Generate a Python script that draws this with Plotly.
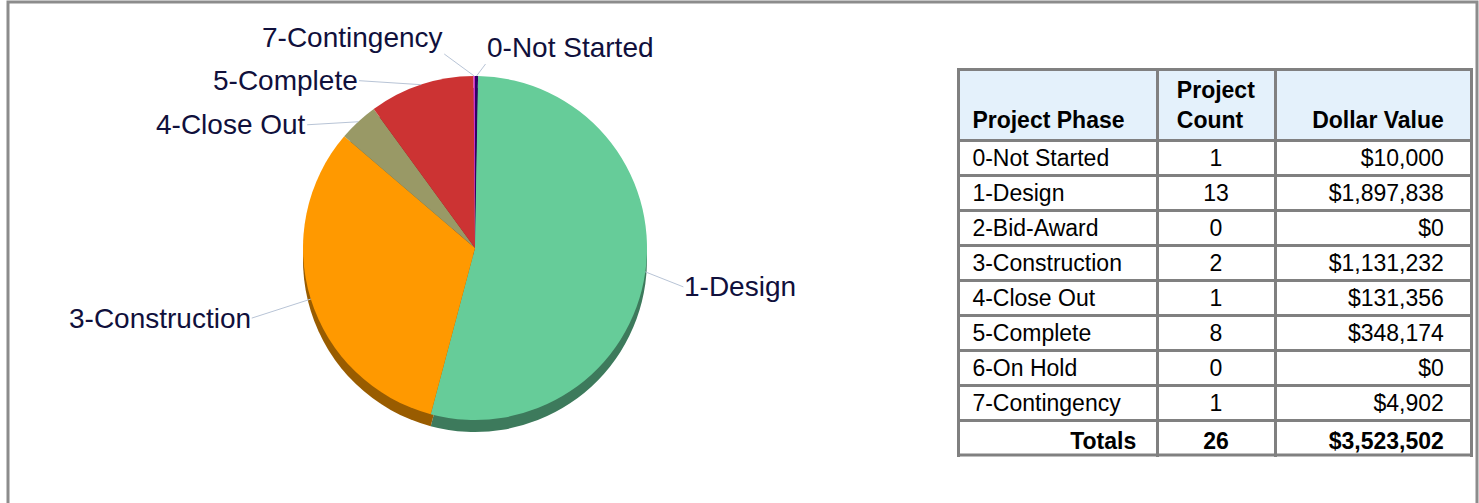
import math
import plotly.graph_objects as go

# ---------------- data ----------------
phases = ["0-Not Started", "1-Design", "2-Bid-Award", "3-Construction",
          "4-Close Out", "5-Complete", "6-On Hold", "7-Contingency"]
counts = [1, 13, 0, 2, 1, 8, 0, 1]
dollars = [10000, 1897838, 0, 1131232, 131356, 348174, 0, 4902]

# ---------------- styles ----------------
W, H = 1479, 503
FONT = "Arial, Liberation Sans, sans-serif"
face_colors = {"0-Not Started": "#330066", "1-Design": "#66CC99", "2-Bid-Award": "#3366CC",
               "3-Construction": "#FF9900", "4-Close Out": "#999966", "5-Complete": "#CC3333",
               "6-On Hold": "#999999", "7-Contingency": "#CC33CC"}
side_colors = {"0-Not Started": "#1E003D", "1-Design": "#3D7A5C", "2-Bid-Award": "#1F3D7A",
               "3-Construction": "#995C00", "4-Close Out": "#5C5C3D", "5-Complete": "#7A1F1F",
               "6-On Hold": "#5C5C5C", "7-Contingency": "#7A1F7A"}
PIE_CX, PIE_CY, PIE_R, DEPTH = 475, 248, 172, 12
# label tail offsets (px) and anchors
label_style = {
    "0-Not Started": dict(ax=9, ay=-12, xanchor="left", yanchor="bottom"),
    "1-Design": dict(ax=38, ay=15, xanchor="left", yanchor="middle"),
    "3-Construction": dict(ax=-59, ay=19, xanchor="right", yanchor="middle"),
    "4-Close Out": dict(ax=-51, ay=3, xanchor="right", yanchor="middle"),
    "5-Complete": dict(ax=-62, ay=-4, xanchor="right", yanchor="middle"),
    "7-Contingency": dict(ax=-30, ay=-22, xanchor="right", yanchor="bottom"),
}
TBL_X0, TBL_X1, TBL_Y0 = 958, 1471, 69
HEAD_H, ROW_H = 71, 35
LINE = dict(color="#808080", width=3)
TFONT = dict(family=FONT, size=23, color="#000000")
NB = "\u00a0"


def px(x):
    return x / W


def py(y):
    return 1 - y / H


# pie uses only non-zero phases
pie_labels = [p for p, v in zip(phases, dollars) if v > 0]
pie_values = [v for v in dollars if v > 0]

fig = go.Figure()

# side (depth) of the pie
fig.add_trace(go.Pie(
    labels=pie_labels, values=pie_values, sort=False, direction="clockwise", rotation=0,
    marker=dict(colors=[side_colors[l] for l in pie_labels], line=dict(width=0)),
    textinfo="none", hoverinfo="skip", showlegend=False,
    domain=dict(x=[px(PIE_CX - PIE_R), px(PIE_CX + PIE_R)],
                y=[py(PIE_CY + PIE_R + DEPTH), py(PIE_CY - PIE_R + DEPTH)]),
))
# top face
fig.add_trace(go.Pie(
    labels=pie_labels, values=pie_values, sort=False, direction="clockwise", rotation=0,
    marker=dict(colors=[face_colors[l] for l in pie_labels], line=dict(width=0)),
    textinfo="none", showlegend=False,
    domain=dict(x=[px(PIE_CX - PIE_R), px(PIE_CX + PIE_R)],
                y=[py(PIE_CY + PIE_R), py(PIE_CY - PIE_R)]),
))

# labels with leader lines
total = sum(pie_values)
cum = 0
annotations = []
for lab, val in zip(pie_labels, pie_values):
    mid = (cum + val / 2) / total * 2 * math.pi
    cum += val
    ex = PIE_CX + PIE_R * math.sin(mid)
    ey = PIE_CY - PIE_R * math.cos(mid)
    st = label_style[lab]
    annotations.append(dict(
        x=px(ex), y=py(ey), xref="paper", yref="paper", text=lab,
        showarrow=True, arrowhead=0, arrowwidth=1, arrowcolor="#B8C4D6",
        ax=st["ax"], ay=st["ay"], xanchor=st["xanchor"], yanchor=st["yanchor"],
        font=dict(family=FONT, size=28, color="#10103C"), borderpad=0,
    ))


# ---------------- table ----------------
def money(v):
    return "${:,.0f}".format(v)


def lpad(s):
    return NB + s


def rpad(s):
    return s + NB * 3


col_phase = [lpad(p) for p in phases]
col_count = [str(c) for c in counts]
col_value = [rpad(money(v)) for v in dollars]
n = len(phases)
body_bottom = TBL_Y0 + HEAD_H + n * ROW_H
table_bottom = body_bottom + ROW_H

fig.add_trace(go.Table(
    domain=dict(x=[px(TBL_X0), px(TBL_X1)], y=[py(body_bottom + 4), py(TBL_Y0)]),
    columnwidth=[199, 118, 196],
    header=dict(
        values=["<b> </b><br><b>" + lpad("Project Phase") + "</b>",
                "<b>Project</b><br><b>Count</b>",
                "<b> </b><br><b>" + rpad("Dollar Value") + "</b>"],
        align=["left", "center", "right"],
        fill=dict(color="#E4F1FB"), line=LINE, font=TFONT, height=HEAD_H,
    ),
    cells=dict(
        values=[col_phase, col_count, col_value],
        align=["left", "center", "right"],
        fill=dict(color="#FFFFFF"), line=LINE, font=TFONT, height=ROW_H,
    ),
))
# totals row
fig.add_trace(go.Table(
    domain=dict(x=[px(TBL_X0), px(TBL_X1)], y=[py(table_bottom + 2), py(body_bottom)]),
    columnwidth=[199, 118, 196],
    header=dict(
        values=["<b>" + "Totals" + NB * 2 + "</b>", "<b>%d</b>" % sum(counts),
                "<b>" + rpad(money(sum(dollars))) + "</b>"],
        align=["right", "center", "right"],
        fill=dict(color="#FFFFFF"), line=LINE, font=TFONT, height=ROW_H,
    ),
    cells=dict(values=[[], [], []], line=LINE, height=ROW_H),
))

fig.update_layout(
    width=W, height=H, margin=dict(l=0, r=0, t=0, b=0),
    paper_bgcolor="#FFFFFF", plot_bgcolor="#FFFFFF",
    annotations=annotations,
    shapes=[
        dict(type="rect", xref="paper", yref="paper",
             x0=px(8), x1=px(1477), y0=py(520), y1=py(2),
             line=dict(color="#8C8C8C", width=3)),
        dict(type="line", xref="paper", yref="paper",
             x0=px(TBL_X0 - 1), x1=px(TBL_X1 + 1), y0=py(table_bottom), y1=py(table_bottom),
             line=dict(color="#808080", width=3)),
    ],
)

fig.write_html("out.html", config={"displayModeBar": False},
               post_script="document.body.style.margin='0';document.body.style.overflow='hidden';")
